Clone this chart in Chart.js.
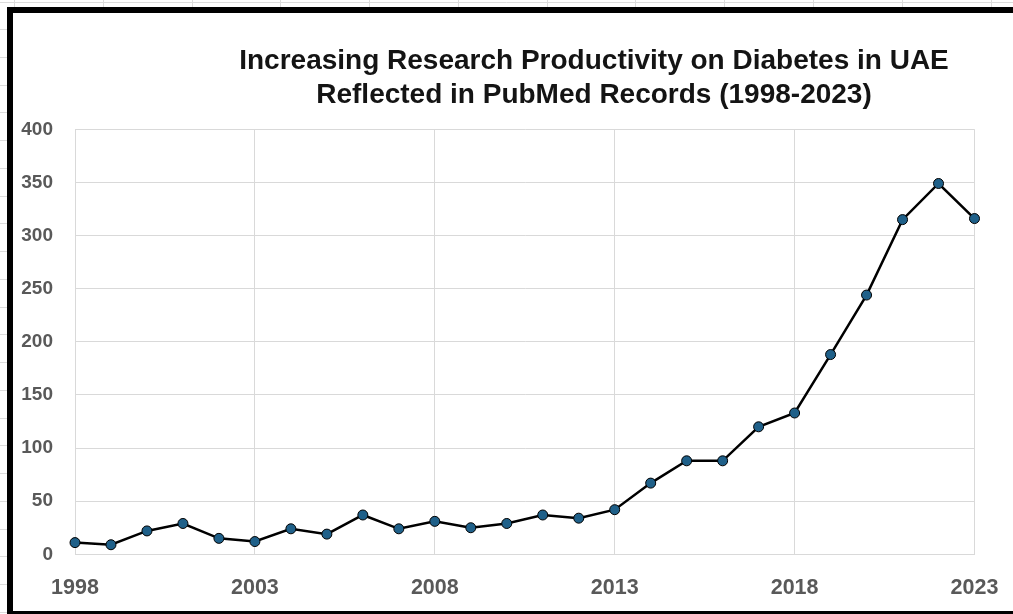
<!DOCTYPE html>
<html>
<head>
<meta charset="utf-8">
<title>Diabetes research in UAE – PubMed records</title>
<script src="https://cdn.jsdelivr.net/npm/chart.js@4.4.1/dist/chart.umd.min.js"></script>
<style>
  html, body { margin: 0; padding: 0; background: #fff; overflow: hidden; }
  #wrap { width: 1013px; height: 614px; position: relative; }
  canvas { display: block; }
</style>
</head>
<body>
<div id="wrap"><canvas id="chart" width="1013" height="614"></canvas></div>
<script>
// PubMed records per year
const years = [1998, 1999, 2000, 2001, 2002, 2003, 2004, 2005, 2006, 2007, 2008, 2009, 2010,
               2011, 2012, 2013, 2014, 2015, 2016, 2017, 2018, 2019, 2020, 2021, 2022, 2023];
const records = [11, 9, 22, 29, 15, 12, 24, 19, 37, 24, 31, 25, 29,
                 37, 34, 42, 67, 88, 88, 120, 133, 188, 244, 315, 349, 316];
const yearTicks = [1998, 2003, 2008, 2013, 2018, 2023];
const titleLines = [
  'Increasing Research Productivity on Diabetes in UAE',
  'Reflected in PubMed Records (1998-2023)'
];

const points = years.map((yr, i) => ({ x: yr, y: records[i] }));

// Sheet background, spreadsheet cell lines around the frame, and the black frame itself
const framePlugin = {
  id: 'frame',
  beforeDraw(chart) {
    const { ctx, width, height } = chart;
    ctx.save();
    ctx.fillStyle = '#ffffff';
    ctx.fillRect(0, 0, width, height);
    ctx.strokeStyle = '#dcdcdc';
    ctx.lineWidth = 1;
    ctx.beginPath();
    ctx.moveTo(0, 2.5); ctx.lineTo(width, 2.5);
    for (let x = 14; x < width; x += 88.78) {
      const px = Math.round(x) + 0.5;
      ctx.moveTo(px, 0); ctx.lineTo(px, 7);
    }
    for (let y = 29; y < height; y += 27.75) {
      const py = Math.round(y) + 0.5;
      ctx.moveTo(0, py); ctx.lineTo(7, py);
    }
    ctx.stroke();
    ctx.fillStyle = '#000000';
    ctx.fillRect(7, 7, width - 7, 6);    // top edge
    ctx.fillRect(7, 7, 6, height - 7);   // left edge
    ctx.fillRect(7, height - 3, width - 7, 3); // bottom edge
    ctx.restore();
  },
  afterDraw(chart) {
    const { ctx } = chart;
    ctx.save();
    ctx.fillStyle = '#141414';
    ctx.font = 'bold 28px "Liberation Sans"';
    ctx.textAlign = 'center';
    ctx.textBaseline = 'alphabetic';
    ctx.fillText(titleLines[0], 594, 68.5);
    ctx.fillText(titleLines[1], 594, 103);
    ctx.restore();
  }
};

new Chart(document.getElementById('chart'), {
  type: 'line',
  data: {
    datasets: [{
      data: points,
      borderColor: '#000000',
      borderWidth: 2.5,
      pointBackgroundColor: '#1f6089',
      pointBorderColor: '#000000',
      pointBorderWidth: 1,
      pointRadius: 5,
      tension: 0,
      clip: false
    }]
  },
  options: {
    responsive: false,
    animation: false,
    devicePixelRatio: 1,
    layout: { padding: { left: 14, right: 38.5, top: 129.3, bottom: 0 } },
    plugins: {
      legend: { display: false },
      title: { display: false },
      tooltip: { enabled: false }
    },
    scales: {
      x: {
        type: 'linear',
        min: 1998,
        max: 2023,
        afterBuildTicks(scale) { scale.ticks = yearTicks.map(v => ({ value: v })); },
        afterFit(scale) {
          scale.height = 59.7;
          scale.paddingLeft = 0;
          scale.paddingRight = 0;
        },
        grid: { color: '#d9d9d9', lineWidth: 1, drawTicks: false },
        border: { color: '#d9d9d9', width: 1 },
        ticks: {
          color: '#595959',
          font: { family: 'Liberation Sans', size: 21.5, weight: 'bold' },
          padding: 21,
          maxRotation: 0,
          autoSkip: false,
          callback: v => String(v)
        }
      },
      y: {
        min: 0,
        max: 400,
        afterFit(scale) {
          scale.width = 61;
          scale.paddingTop = 0;
          scale.paddingBottom = 0;
        },
        grid: { color: '#d9d9d9', lineWidth: 1, drawTicks: false },
        border: { color: '#d9d9d9', width: 1 },
        ticks: {
          stepSize: 50,
          color: '#595959',
          font: { family: 'Liberation Sans', size: 19, weight: 'bold' },
          padding: 22
        }
      }
    }
  },
  plugins: [framePlugin]
});
</script>
</body>
</html>
